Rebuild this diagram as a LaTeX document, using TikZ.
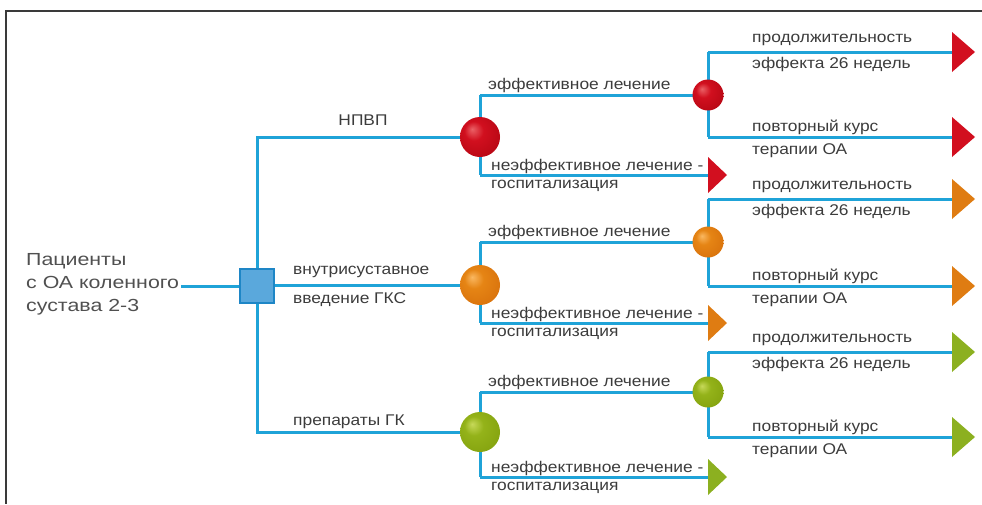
\documentclass[tikz,border=0pt]{standalone}
\usepackage{fontspec}
\setmainfont{Liberation Sans}
\newfontfamily\lblfont[FakeStretch=1.12]{Liberation Sans}
\newfontfamily\mainfont[FakeStretch=1.22]{Liberation Sans}
\usetikzlibrary{shapes.geometric,backgrounds}
\definecolor{linec}{HTML}{1FA3D8}
\definecolor{framec}{HTML}{3A3A3A}
\definecolor{txtc}{HTML}{3C3C3C}
\definecolor{sqfill}{HTML}{5AA8DC}
\definecolor{sqdraw}{HTML}{1E86C6}
\definecolor{triR}{HTML}{D20F1F}
\definecolor{triO}{HTML}{DF7C12}
\definecolor{triG}{HTML}{8CB020}
\pgfdeclareradialshading{ballR}{\pgfpoint{-10bp}{10bp}}{rgb(0bp)=(0.92,0.38,0.40);rgb(12bp)=(0.82,0.06,0.12);rgb(32bp)=(0.72,0.03,0.08);rgb(50bp)=(0.58,0.02,0.05)}
\pgfdeclareradialshading{ballO}{\pgfpoint{-10bp}{10bp}}{rgb(0bp)=(0.98,0.72,0.38);rgb(12bp)=(0.90,0.52,0.08);rgb(32bp)=(0.85,0.45,0.05);rgb(50bp)=(0.70,0.36,0.03)}
\pgfdeclareradialshading{ballG}{\pgfpoint{-10bp}{10bp}}{rgb(0bp)=(0.78,0.85,0.35);rgb(12bp)=(0.58,0.70,0.10);rgb(32bp)=(0.52,0.64,0.06);rgb(50bp)=(0.40,0.52,0.03)}
\tikzset{
  conn/.style={draw=linec, line width=3pt},
  frameline/.style={draw=framec, line width=2.5pt},
  bigball/.style={circle, minimum size=40pt, inner sep=0pt, outer sep=0pt, shade, shading=#1},
  smallball/.style={circle, minimum size=31pt, inner sep=0pt, outer sep=0pt, shade, shading=#1},
  bigtri/.style={isosceles triangle, isosceles triangle stretches, minimum width=40pt, minimum height=23pt, inner sep=0pt, outer sep=0pt, fill=#1, anchor=lower side},
  smalltri/.style={isosceles triangle, isosceles triangle stretches, minimum width=36pt, minimum height=19pt, inner sep=0pt, outer sep=0pt, fill=#1, anchor=lower side},
  lbl/.style={font=\lblfont\fontsize{15.5}{18}\selectfont, text=txtc, inner sep=0pt, anchor=west},
  mainlbl/.style={font=\mainfont\fontsize{17.5}{23}\selectfont, text=txtc!90!white, inner sep=2pt, anchor=west, align=left},
  sqbox/.style={rectangle, minimum size=34pt, inner sep=0pt, outer sep=0pt, fill=sqfill, draw=sqdraw, line width=2pt}
}
% #1 name, #2 y big, #3 y top, #4 y bottom, #5 y small top, #6 y small bottom, #7 shading, #8 triangle colour
\newcommand{\drawgroup}[8]{%
  \node[bigball=#7] (#1big) at (480,#2) {};
  \node[smallball=#7] (#1sm) at (708,#3) {};
  \node[smalltri=#8] (#1fail) at (708,#4) {};
  \node[bigtri=#8] (#1long) at (952,#5) {};
  \node[bigtri=#8] (#1rep) at (952,#6) {};
  \coordinate (#1a) at (480,#3);
  \coordinate (#1b) at (480,#4);
  \coordinate (#1c) at (708,#5);
  \coordinate (#1d) at (708,#6);
  \begin{pgfonlayer}{background}
    \draw[conn] (#1a) -- (#1b);
    \draw[conn] (#1a) -- (#1sm.center);
    \draw[conn] (#1b) -- (#1fail.lower side);
    \draw[conn] (#1c) -- (#1d);
    \draw[conn] (#1c) -- (#1long.lower side);
    \draw[conn] (#1d) -- (#1rep.lower side);
    \draw[conn] (trunk) |- (#1big.center);
  \end{pgfonlayer}
  \node[lbl] (#1eff) at (488,#3-10) {эффективное лечение};
  \node[lbl] (#1ne) at (491,#4-9) {неэффективное лечение -};
  \node[lbl] (#1hosp) at (491,#4+11) {госпитализация};
  \node[lbl] (#1pr) at (752,#5-12) {продолжительность};
  \node[lbl] (#1ef) at (752,#5+12) {эффекта 26 недель};
  \node[lbl] (#1pk) at (752,#6-10) {повторный курс};
  \node[lbl] (#1th) at (752,#6+14) {терапии ОА};
}
\begin{document}
\begin{tikzpicture}[x=1pt,y=-1pt]
\useasboundingbox (0,0) rectangle (982,504);
\coordinate (frTR) at (982,11);
\coordinate (frTL) at (6,11);
\coordinate (frBL) at (6,504);
\draw[frameline] (frTR) -- (frTL) -- (frBL);

\node[sqbox] (sq) at (257,286) {};
\coordinate (trunk) at (257,286);
\node[mainlbl] (pat) at (24,284) {Пациенты\\с ОА коленного\\сустава 2-3};
\begin{pgfonlayer}{background}
  \draw[conn] (sq.west) -- (sq.west -| pat.east);
\end{pgfonlayer}

\drawgroup{R}{137}{95}{175}{52}{137}{ballR}{triR}
\drawgroup{O}{285}{242}{323}{199}{286}{ballO}{triO}
\drawgroup{G}{432}{392}{477}{352}{437}{ballG}{triG}

\node[lbl, anchor=center] (nsaid) at (363,120) {НПВП};
\node[lbl] (ia1) at (293,272) {внутрисуставное};
\node[lbl] (ia2) at (293,300) {введение ГКС};
\node[lbl] (gk) at (293,422) {препараты ГК};
\end{tikzpicture}
\end{document}
